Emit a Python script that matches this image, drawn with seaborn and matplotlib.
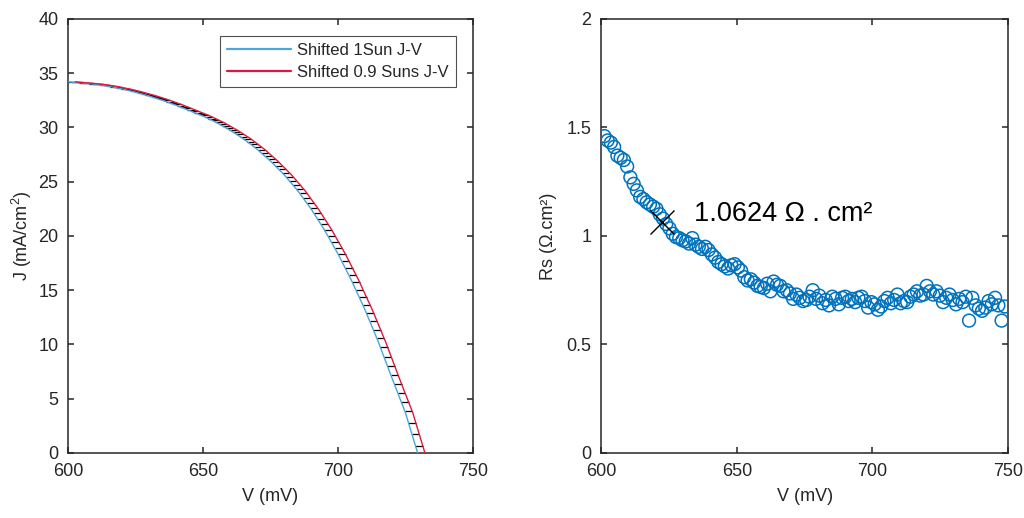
#!/usr/bin/env python3
"""
Shifted J-V curves and series resistance (Rs) vs voltage
"""

import numpy as np
import matplotlib
matplotlib.use('Agg')
import matplotlib.pyplot as plt
import seaborn as sns

# Data
# 1 Sun J-V (shifted), V in mV, J in mA/cm2
jv_1sun_v = [600, 605, 610, 615, 620, 625, 630, 635, 640, 645, 650, 655, 660,
             665, 670, 675, 680, 685, 690, 695, 700, 705, 710, 715, 720, 725, 729.5]
jv_1sun_j = [34.2, 34.1, 33.98, 33.8, 33.55, 33.25, 32.9, 32.5, 32.05, 31.55, 31.05,
             30.45, 29.75, 28.95, 28.0, 26.9, 25.65, 24.2, 22.5, 20.55, 18.35, 15.9,
             13.2, 10.2, 6.9, 3.7, 0.0]

# 0.9 Suns J-V (shifted)
jv_09sun_v = [602.7, 607.7, 612.7, 617.7, 622.7, 627.7, 632.7, 637.7, 642.7, 647.7,
              652.7, 657.7, 662.7, 667.7, 672.7, 677.7, 682.7, 687.7, 692.7, 697.7,
              702.7, 707.7, 712.7, 717.7, 722.7, 727.7, 732.2]
jv_09sun_j = jv_1sun_j

# Rs vs V
rs_v = [601.2, 602.4, 603.6, 604.8, 606.0, 607.2, 608.4, 609.6, 610.8, 612.0,
        613.2, 614.4, 615.6, 616.8, 618.0, 619.2, 620.4, 621.6, 622.8, 624.0,
        625.2, 626.4, 627.6, 628.8, 630.0, 631.2, 632.4, 633.6, 634.8, 636.0,
        637.2, 638.4, 639.6, 640.8, 642.0, 643.2, 644.4, 645.6, 646.8, 648.0,
        649.2, 650.4, 651.6, 652.8, 654.0, 655.2, 656.4, 657.6, 658.8, 660.0,
        661.2, 662.4, 663.6, 664.8, 666.0, 667.2, 668.4, 669.6, 670.8, 672.0,
        673.2, 674.4, 675.6, 676.8, 678.0, 679.2, 680.4, 681.6, 682.8, 684.0,
        685.2, 686.4, 687.6, 688.8, 690.0, 691.2, 692.4, 693.6, 694.8, 696.0,
        697.2, 698.4, 699.6, 700.8, 702.0, 703.2, 704.4, 705.6, 706.8, 708.0,
        709.2, 710.4, 711.6, 712.8, 714.0, 715.2, 716.4, 717.6, 718.8, 720.0,
        721.2, 722.4, 723.6, 724.8, 726.0, 727.2, 728.4, 729.6, 730.8, 732.0,
        733.2, 734.4, 735.6, 736.8, 738.0, 739.2, 740.4, 741.6, 742.8, 744.0,
        745.2, 746.4, 747.6, 748.8]
rs_val = [1.46, 1.44, 1.43, 1.41, 1.37, 1.36, 1.35, 1.32, 1.27, 1.24,
          1.21, 1.18, 1.17, 1.155, 1.145, 1.135, 1.125, 1.10, 1.08, 1.055,
          1.035, 1.01, 0.995, 0.99, 0.98, 0.975, 0.965, 0.99, 0.96, 0.95,
          0.94, 0.95, 0.935, 0.915, 0.90, 0.88, 0.87, 0.86, 0.85, 0.865,
          0.87, 0.855, 0.84, 0.81, 0.795, 0.80, 0.785, 0.77, 0.765, 0.76,
          0.78, 0.745, 0.79, 0.775, 0.77, 0.745, 0.75, 0.735, 0.71, 0.73,
          0.715, 0.70, 0.705, 0.72, 0.75, 0.71, 0.725, 0.69, 0.705, 0.68,
          0.72, 0.71, 0.685, 0.715, 0.72, 0.70, 0.71, 0.695, 0.715, 0.72,
          0.70, 0.67, 0.695, 0.685, 0.66, 0.675, 0.70, 0.715, 0.69, 0.705,
          0.73, 0.69, 0.70, 0.695, 0.72, 0.73, 0.745, 0.725, 0.73, 0.77,
          0.745, 0.73, 0.745, 0.725, 0.695, 0.715, 0.73, 0.705, 0.685, 0.71,
          0.695, 0.72, 0.61, 0.715, 0.68, 0.665, 0.655, 0.67, 0.70, 0.685,
          0.715, 0.68, 0.61, 0.675]

# Extracted Rs point
rs_pick_v = 622.3
rs_pick = 1.0624
rs_label = '1.0624 \u03a9 . cm\u00b2'

BLUE_LINE = '#4aa6dc'
RED_LINE = '#e0173f'
MARKER_BLUE = '#0072bd'
AXIS_COLOR = '#262626'

sns.set_style('white')
plt.rcParams['font.family'] = ['Liberation Sans', 'DejaVu Sans']
plt.rcParams['mathtext.fontset'] = 'custom'
plt.rcParams['mathtext.rm'] = 'Liberation Sans'
plt.rcParams['axes.unicode_minus'] = False


def style_axes(ax):
    for sp in ax.spines.values():
        sp.set_visible(True)
        sp.set_color(AXIS_COLOR)
        sp.set_linewidth(1.1)
    ax.tick_params(direction='in', length=4, width=1.1, color=AXIS_COLOR,
                   labelsize=13, labelcolor=AXIS_COLOR,
                   top=True, right=True, bottom=True, left=True)
    ax.tick_params(axis='x', pad=7)
    ax.tick_params(axis='y', pad=7)


fig = plt.figure(figsize=(10.24, 5.18), dpi=100)
ax1 = fig.add_axes([0.0664, 0.1255, 0.3955, 0.838])
ax2 = fig.add_axes([0.587, 0.1255, 0.3975, 0.838])

# ---- Left: J-V curves with hatching between them ----
# hatch lines: horizontal segments from the 1 Sun curve to the 0.9 Suns curve
hatch_v = np.arange(600, 729.5, 1.3)
hatch_j = np.interp(hatch_v, jv_1sun_v, jv_1sun_j)
hatch_v_red = np.interp(hatch_j, jv_09sun_j[::-1], jv_09sun_v[::-1])
ax1.hlines(hatch_j, hatch_v, hatch_v_red, color='black', linewidth=0.9, zorder=2)

sns.lineplot(x=jv_1sun_v, y=jv_1sun_j, ax=ax1, color=BLUE_LINE, linewidth=1.0,
             label='Shifted 1Sun J-V', zorder=3)
sns.lineplot(x=jv_09sun_v, y=jv_09sun_j, ax=ax1, color=RED_LINE, linewidth=1.0,
             label='Shifted 0.9 Suns J-V', zorder=3)

ax1.set_xlim(600, 750)
ax1.set_ylim(0, 40)
ax1.set_xticks([600, 650, 700, 750])
ax1.set_yticks(np.arange(0, 41, 5))
ax1.set_xlabel('V (mV)', fontsize=13, color=AXIS_COLOR, labelpad=6)
ax1.set_ylabel('J (mA/cm$^2$)', fontsize=13, color=AXIS_COLOR, labelpad=3)
style_axes(ax1)

leg = ax1.legend(loc='upper right', fontsize=12, handlelength=3.8,
                 frameon=True, fancybox=False, borderaxespad=1.0,
                 borderpad=0.45, labelspacing=0.4, handletextpad=0.4)
leg.get_frame().set_edgecolor(AXIS_COLOR)
leg.get_frame().set_linewidth(0.8)
for line in leg.get_lines():
    line.set_linewidth(1.6)

# ---- Right: Rs vs V ----
sns.scatterplot(x=rs_v, y=rs_val, ax=ax2, marker='o', s=85,
                facecolors='none', edgecolor=MARKER_BLUE, linewidth=1.1,
                zorder=3)
ax2.plot([rs_pick_v], [rs_pick], marker='x', color='black', markersize=17,
         markeredgewidth=1.0, linestyle='none', zorder=4)
ax2.text(rs_pick_v + 12, rs_pick + 0.04, rs_label, fontsize=19.5,
         color='black', va='center', ha='left')

ax2.set_xlim(600, 750)
ax2.set_ylim(0, 2)
ax2.set_xticks([600, 650, 700, 750])
ax2.set_yticks([0, 0.5, 1, 1.5, 2])
ax2.set_yticklabels(['0', '0.5', '1', '1.5', '2'])
ax2.set_xlabel('V (mV)', fontsize=13, color=AXIS_COLOR, labelpad=6)
ax2.set_ylabel('Rs (\u03a9.cm\u00b2)', fontsize=13, color=AXIS_COLOR, labelpad=7)
style_axes(ax2)

fig.savefig('out.png', dpi=100)
plt.close(fig)
